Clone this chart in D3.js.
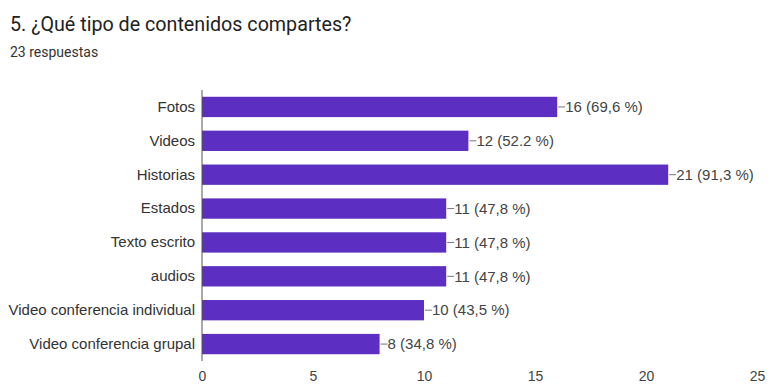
<!DOCTYPE html>
<html>
<head>
<meta charset="utf-8">
<script src="https://d3js.org/d3.v7.min.js"></script>
<style>
body { margin: 0; background: #fff; }
</style>
</head>
<body>
<svg width="771" height="385"></svg>
<script>
var categories = ["Fotos", "Videos", "Historias", "Estados", "Texto escrito", "audios", "Video conferencia individual", "Video conferencia grupal"];
var counts = [16, 12, 21, 11, 11, 11, 10, 8];
var labels = ["16 (69,6 %)", "12 (52.2 %)", "21 (91,3 %)", "11 (47,8 %)", "11 (47,8 %)", "11 (47,8 %)", "10 (43,5 %)", "8 (34,8 %)"];
var xticks = [0, 5, 10, 15, 20, 25];

var svg = d3.select("svg");

// title
svg.append("text").attr("x", 10).attr("y", 31)
  .attr("font-family", "Roboto").attr("font-size", 19.7).attr("fill", "#222")
  .text("5. ¿Qué tipo de contenidos compartes?");
svg.append("text").attr("x", 10).attr("y", 57)
  .attr("font-family", "Roboto").attr("font-size", 14).attr("fill", "#333")
  .text("23 respuestas");

var x = d3.scaleLinear().domain([0, 25]).range([202, 757]);
var y = d3.scaleBand().domain(categories).range([90, 361]).paddingInner(0.4).paddingOuter(0.2);

// bars
svg.append("g").selectAll("rect")
  .data(counts).enter()
  .append("rect")
  .attr("x", x(0))
  .attr("y", function(d, i) { return y(categories[i]); })
  .attr("width", function(d) { return x(d) - x(0); })
  .attr("height", y.bandwidth())
  .attr("fill", "#5c2fc2");

// value labels with little leader line
var lab = svg.append("g").selectAll("g")
  .data(counts).enter().append("g");
lab.append("line")
  .attr("x1", function(d) { return x(d) + 1; })
  .attr("x2", function(d) { return x(d) + 8; })
  .attr("y1", function(d, i) { return y(categories[i]) + y.bandwidth() / 2; })
  .attr("y2", function(d, i) { return y(categories[i]) + y.bandwidth() / 2; })
  .attr("stroke", "#777");
lab.append("text")
  .attr("x", function(d) { return x(d) + 8; })
  .attr("y", function(d, i) { return y(categories[i]) + y.bandwidth() / 2; })
  .attr("dy", "0.35em")
  .attr("font-family", "Liberation Sans, Arial").attr("font-size", 15).attr("fill", "#444")
  .text(function(d, i) { return labels[i]; });

// y axis
var yAxis = svg.append("g").attr("transform", "translate(" + x(0) + ",0)")
  .call(d3.axisLeft(y).tickSize(0).tickPadding(7));
yAxis.select(".domain").attr("stroke", "#555").attr("d", "M0,90V361");
yAxis.selectAll("text").attr("font-family", "Liberation Sans, Arial").attr("font-size", 15).attr("fill", "#333");

// x axis
var xAxis = svg.append("g").attr("transform", "translate(0,361)")
  .call(d3.axisBottom(x).tickValues(xticks).tickSize(0).tickPadding(10));
xAxis.select(".domain").remove();
xAxis.selectAll("text").attr("font-family", "Liberation Sans, Arial").attr("font-size", 14).attr("fill", "#444");
</script>
</body>
</html>
